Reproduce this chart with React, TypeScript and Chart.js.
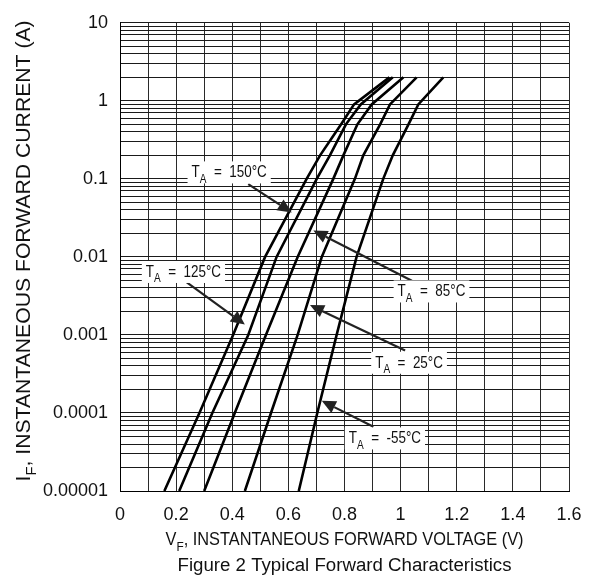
import React, { useEffect, useRef } from 'react';
import { Chart, registerables } from 'chart.js';

Chart.register(...registerables);

// ---------- data ----------
const CURRENT_A = [0.00001, 0.0001, 0.001, 0.01, 0.1, 0.2, 0.5, 0.9, 2];
const VF_150C = [0.158, 0.283, 0.403, 0.517, 0.665, 0.713, 0.788, 0.834, 0.96];
const VF_125C = [0.211, 0.329, 0.457, 0.558, 0.701, 0.748, 0.805, 0.858, 0.972];
const VF_85C = [0.3, 0.409, 0.52, 0.633, 0.76, 0.796, 0.846, 0.897, 1.01];
const VF_25C = [0.445, 0.538, 0.633, 0.719, 0.837, 0.867, 0.927, 0.962, 1.057];
const VF_M55C = [0.637, 0.703, 0.772, 0.843, 0.938, 0.972, 1.028, 1.063, 1.152];

const TEMPS = ['150°C', '125°C', '85°C', '25°C', '-55°C'];

const X_GRID = [0, 0.1, 0.2, 0.3, 0.4, 0.5, 0.6, 0.7, 0.8, 0.9, 1.0, 1.1, 1.2, 1.3, 1.4, 1.5, 1.6];
const X_TICK_LABELS = ['0', '', '0.2', '', '0.4', '', '0.6', '', '0.8', '', '1', '', '1.2', '', '1.4', '', '1.6'];
const Y_DECADES = [0.00001, 0.0001, 0.001, 0.01, 0.1, 1, 10];
const Y_TICK_LABELS = ['0.00001', '0.0001', '0.001', '0.01', '0.1', '1', '10'];
const Y_MINOR_MULT = [1, 2, 3, 4, 5, 6, 7, 8, 9];

// annotation anchors (data units: V, A)
const LABEL_V = [0.389, 0.226, 1.11, 1.03, 0.944];
const LABEL_I = [0.121, 0.00641, 0.003606, 0.00044, 0.0000472];
const ARROW_FROM_V = [0.457, 0.238, 1.04, 1.016, 0.903];
const ARROW_FROM_I = [0.0857, 0.00471, 0.004955, 0.00063, 0.0000665];
const ARROW_TO_V = [0.612, 0.445, 0.689, 0.677, 0.719];
const ARROW_TO_I = [0.037, 0.001358, 0.02183, 0.00241, 0.000143];

const FONT = '"Liberation Sans", Arial, Helvetica, sans-serif';
const INK = '#111';

type Seg = { t: string; sub?: boolean };

function measureRich(ctx: CanvasRenderingContext2D, segs: Seg[], size: number, subRatio: number) {
  return segs.map((s) => {
    ctx.font = s.sub ? `${Math.round(size * subRatio)}px ${FONT}` : `${size}px ${FONT}`;
    return ctx.measureText(s.t).width;
  });
}

function drawRich(
  ctx: CanvasRenderingContext2D,
  segs: Seg[],
  x: number,
  y: number,
  size: number,
  align: 'left' | 'center',
  targetW?: number,
  subRatio = 0.72
) {
  const widths = measureRich(ctx, segs, size, subRatio);
  const total = widths.reduce((a, b) => a + b, 0);
  const sx = targetW ? targetW / total : 1;
  ctx.save();
  ctx.translate(x, y);
  ctx.scale(sx, 1);
  ctx.textBaseline = 'alphabetic';
  ctx.textAlign = 'left';
  let cx = align === 'center' ? -total / 2 : 0;
  segs.forEach((s, i) => {
    ctx.font = s.sub ? `${Math.round(size * subRatio)}px ${FONT}` : `${size}px ${FONT}`;
    ctx.fillText(s.t, cx, s.sub ? size * 0.32 : 0);
    cx += widths[i];
  });
  ctx.restore();
  return total * sx;
}

function arrow(ctx: CanvasRenderingContext2D, x1: number, y1: number, x2: number, y2: number) {
  const ang = Math.atan2(y2 - y1, x2 - x1);
  const L = 14;
  const W = 6.5;
  const bx = x2 - L * Math.cos(ang);
  const by = y2 - L * Math.sin(ang);
  ctx.save();
  ctx.strokeStyle = '#222';
  ctx.fillStyle = '#222';
  ctx.lineWidth = 2.2;
  ctx.beginPath();
  ctx.moveTo(x1, y1);
  ctx.lineTo(bx, by);
  ctx.stroke();
  ctx.beginPath();
  ctx.moveTo(x2, y2);
  ctx.lineTo(bx + W * Math.sin(ang), by - W * Math.cos(ang));
  ctx.lineTo(bx - W * Math.sin(ang), by + W * Math.cos(ang));
  ctx.closePath();
  ctx.fill();
  ctx.restore();
}

const overlayPlugin = {
  id: 'overlay',
  afterDatasetsDraw(chart: any) {
    const ctx: CanvasRenderingContext2D = chart.ctx;
    const xs = chart.scales.x;
    const ys = chart.scales.y;
    const area = chart.chartArea;
    ctx.save();
    ctx.fillStyle = INK;
    // annotations
    TEMPS.forEach((t, i) => {
      const fx = xs.getPixelForValue(ARROW_FROM_V[i]);
      const fy = ys.getPixelForValue(ARROW_FROM_I[i]);
      const tx = xs.getPixelForValue(ARROW_TO_V[i]);
      const ty = ys.getPixelForValue(ARROW_TO_I[i]);
      arrow(ctx, fx, fy, tx, ty);
    });
    TEMPS.forEach((t, i) => {
      const cx = xs.getPixelForValue(LABEL_V[i]);
      const cy = ys.getPixelForValue(LABEL_I[i]);
      const segs: Seg[] = [{ t: 'T' }, { t: 'A', sub: true }, { t: '  =  ' }, { t: t }];
      const size = 16;
      const sub = 0.75;
      const w = measureRich(ctx, segs, size, sub).reduce((a, b) => a + b, 0);
      const tw = w * 0.84;
      ctx.fillStyle = '#fff';
      ctx.fillRect(cx - tw / 2 - 4, cy - 11, tw + 8, 22);
      ctx.fillStyle = INK;
      drawRich(ctx, segs, cx, cy + 5, size, 'center', tw, sub);
    });
    // axis titles
    const midX = (area.left + area.right) / 2;
    drawRich(
      ctx,
      [{ t: 'V' }, { t: 'F', sub: true }, { t: ', INSTANTANEOUS FORWARD VOLTAGE (V)' }],
      midX,
      545,
      18,
      'center',
      358
    );
    drawRich(ctx, [{ t: 'Figure 2 Typical Forward Characteristics' }], midX, 571, 18, 'center', 334);
    ctx.save();
    ctx.translate(30, (area.top + area.bottom) / 2 - 6);
    ctx.rotate(-Math.PI / 2);
    drawRich(
      ctx,
      [{ t: 'I' }, { t: 'F', sub: true }, { t: ', INSTANTANEOUS FORWARD CURRENT (A)' }],
      0,
      0,
      20,
      'center',
      461
    );
    ctx.restore();
    ctx.restore();
  },
};

export default function App() {
  const ref = useRef<HTMLCanvasElement | null>(null);
  useEffect(() => {
    if (!ref.current) return;
    const mk = (vals: number[]) => vals.map((v, i) => ({ x: v, y: CURRENT_A[i] }));
    const series = [VF_150C, VF_125C, VF_85C, VF_25C, VF_M55C];
    const chart = new Chart(ref.current, {
      type: 'line',
      data: {
        datasets: series.map((s, i) => ({
          label: TEMPS[i],
          data: mk(s),
          borderColor: '#000',
          borderWidth: 2.6,
          pointRadius: 0,
          tension: 0,
          fill: false,
        })),
      },
      options: {
        animation: false,
        responsive: false,
        devicePixelRatio: 1,
        events: [],
        layout: { padding: { left: 0, right: 26, top: 10, bottom: 0 } },
        plugins: { legend: { display: false }, tooltip: { enabled: false } },
        scales: {
          x: {
            type: 'linear',
            min: 0,
            max: 1.6,
            afterBuildTicks: (scale: any) => {
              scale.ticks = X_GRID.map((v) => ({ value: v }));
            },
            afterFit: (scale: any) => {
              scale.height = 89;
            },
            grid: { color: '#2a2a2a', lineWidth: 1, drawTicks: false },
            border: { display: true, color: '#000', width: 1 },
            ticks: {
              autoSkip: false,
              maxRotation: 0,
              padding: 13,
              color: INK,
              font: { family: FONT, size: 18 },
              callback: (_v: any, idx: number) => X_TICK_LABELS[idx],
            },
          },
          y: {
            type: 'logarithmic',
            min: 0.00001,
            max: 10,
            afterBuildTicks: (scale: any) => {
              const t: any[] = [];
              Y_DECADES.forEach((d, di) => {
                if (di === Y_DECADES.length - 1) {
                  t.push({ value: d });
                  return;
                }
                Y_MINOR_MULT.forEach((m) => t.push({ value: d * m }));
              });
              scale.ticks = t;
            },
            afterFit: (scale: any) => {
              scale.width = 120;
            },
            grid: { color: '#1a1a1a', lineWidth: 1, drawTicks: false },
            border: { display: true, color: '#000', width: 1 },
            ticks: {
              autoSkip: false,
              padding: 12,
              color: INK,
              font: { family: FONT, size: 18 },
              callback: (v: any) => {
                const lv = Math.log10(Number(v));
                const k = Y_DECADES.findIndex((d) => Math.abs(Math.log10(d) - lv) < 1e-6);
                return k >= 0 ? Y_TICK_LABELS[k] : '';
              },
            },
          },
        },
      },
      plugins: [overlayPlugin],
    } as any);
    return () => chart.destroy();
  }, []);
  return (
    <div style={{ position: 'absolute', left: 0, top: 0, width: 595, height: 580, background: '#fff' }}>
      <canvas ref={ref} width={595} height={580} style={{ width: 595, height: 580, display: 'block' }} />
    </div>
  );
}
